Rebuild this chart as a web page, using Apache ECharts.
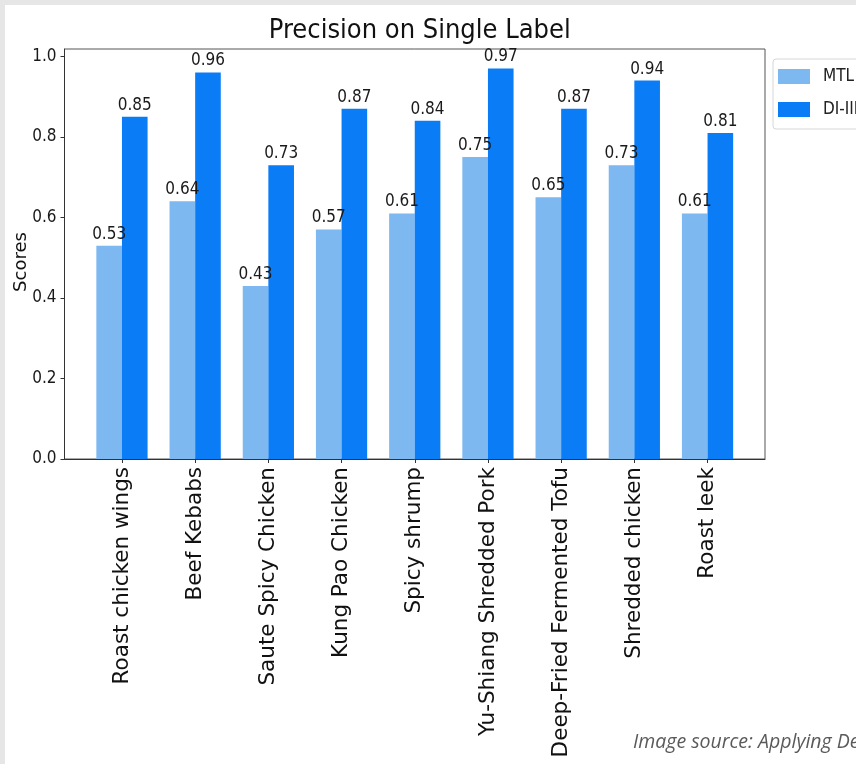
<!DOCTYPE html>
<html>
<head>
<meta charset="utf-8">
<script src="https://cdn.jsdelivr.net/npm/echarts@6/dist/echarts.min.js"></script>
<style>
  html, body { margin: 0; padding: 0; width: 856px; height: 764px; overflow: hidden; background: #e6e6e6; }
  #chart { position: absolute; left: 5px; top: 5px; width: 851px; height: 759px; background: #ffffff; }
</style>
</head>
<body>
<div id="chart"></div>
<script>
// Dishes on the x axis
const categories = [
  'Roast chicken wings', 'Beef Kebabs', 'Saute Spicy Chicken', 'Kung Pao Chicken',
  'Spicy shrump', 'Yu-Shiang Shredded Pork', 'Deep-Fried Fermented Tofu',
  'Shredded chicken', 'Roast leek'
];
// Precision per dish for each model
const mtlScores = [0.53, 0.64, 0.43, 0.57, 0.61, 0.75, 0.65, 0.73, 0.61];
const diScores  = [0.85, 0.96, 0.73, 0.87, 0.84, 0.97, 0.87, 0.94, 0.81];
const seriesNames = ['MTL', 'DI-IIFR'];
const yTicks = [0, 0.2, 0.4, 0.6, 0.8, 1.0];

const COND = '"DejaVu Sans Condensed", "DejaVu Sans", sans-serif';
const REG = '"DejaVu Sans", sans-serif';

// grid geometry (container is offset by 5px inside the page)
const gridLeft = 59.5, gridTop = 44, gridRight = 91, gridBottom = 305;
const gridW = 851 - gridLeft - gridRight;

// bars are 0.35 wide, placed either side of each category position
const BAR = 0.35;
const n = categories.length;
const xMin = -BAR - 0.05 * ((n - 1) + 2 * BAR);
const xMax = (n - 1) + BAR + 0.05 * ((n - 1) + 2 * BAR);
const pxPerUnit = gridW / (xMax - xMin);
const barPx = BAR * pxPerUnit;
const allScores = mtlScores.concat(diScores);
const yMax = Math.max.apply(null, allScores) * 1.05;
const catIdx = categories.map((_, i) => i);

function barLabel() {
  return {
    show: true, position: 'top', distance: 3,
    fontFamily: COND, fontSize: 17, color: '#1a1a1a',
    formatter: p => p.value[1].toFixed(2)
  };
}

const chart = echarts.init(document.getElementById('chart'), null, { renderer: 'canvas' });
chart.setOption({
  animation: false,
  backgroundColor: '#ffffff',
  title: {
    text: 'Precision on Single Label',
    left: gridLeft + gridW / 2, top: 7, textAlign: 'center',
    textStyle: { fontFamily: COND, fontSize: 27, fontWeight: 'normal', color: '#111' }
  },
  legend: {
    orient: 'vertical', left: 768, top: 54,
    itemWidth: 32, itemHeight: 15, itemGap: 16,
    padding: [9, 10, 11, 5],
    borderColor: '#d6d6d6', borderWidth: 1, borderRadius: 3,
    icon: 'rect',
    textStyle: { fontFamily: COND, fontSize: 17, color: '#222', padding: [0, 0, 0, 8] },
    data: seriesNames
  },
  grid: {
    left: gridLeft, top: gridTop, right: gridRight, bottom: gridBottom,
    show: true, borderColor: '#555', borderWidth: 1, containLabel: false
  },
  xAxis: {
    type: 'value', min: xMin, max: xMax,
    splitLine: { show: false },
    axisLine: { show: true, onZero: false, lineStyle: { color: '#333', width: 1 } },
    axisTick: { show: true, customValues: catIdx, length: 4, lineStyle: { color: '#333' } },
    axisLabel: {
      customValues: catIdx, rotate: 90, margin: 8,
      fontFamily: REG, fontSize: 21.5, color: '#111',
      formatter: v => categories[Math.round(v)]
    }
  },
  yAxis: {
    type: 'value', min: 0, max: yMax,
    splitLine: { show: false },
    axisLine: { show: true, onZero: false, lineStyle: { color: '#333', width: 1 } },
    axisTick: { show: true, customValues: yTicks, length: 4, lineStyle: { color: '#333' } },
    axisLabel: {
      customValues: yTicks, margin: 8,
      fontFamily: COND, fontSize: 17, color: '#1a1a1a',
      formatter: v => v.toFixed(1)
    }
  },
  graphic: [
    {
      type: 'text', x: 16, y: 257, rotation: Math.PI / 2,
      style: { text: 'Scores', fontFamily: REG, fontSize: 18, fill: '#111', align: 'center', verticalAlign: 'middle' }
    },
    {
      type: 'text', x: 628, y: 737,
      style: { text: 'Image source: Applying Deep Learning', fontFamily: '"Open Sans", sans-serif', fontStyle: 'italic', fontSize: 19.5, fill: '#5a5a5a', verticalAlign: 'middle' }
    }
  ],
  series: [
    {
      type: 'bar', name: seriesNames[0],
      data: mtlScores.map((v, i) => [i - BAR / 2, v]),
      barWidth: barPx, barGap: '-100%',
      itemStyle: { color: '#7db8f1' },
      label: barLabel()
    },
    {
      type: 'bar', name: seriesNames[1],
      data: diScores.map((v, i) => [i + BAR / 2, v]),
      barWidth: barPx, barGap: '-100%',
      itemStyle: { color: '#0a7cf6' },
      label: barLabel()
    }
  ]
});
</script>
</body>
</html>
